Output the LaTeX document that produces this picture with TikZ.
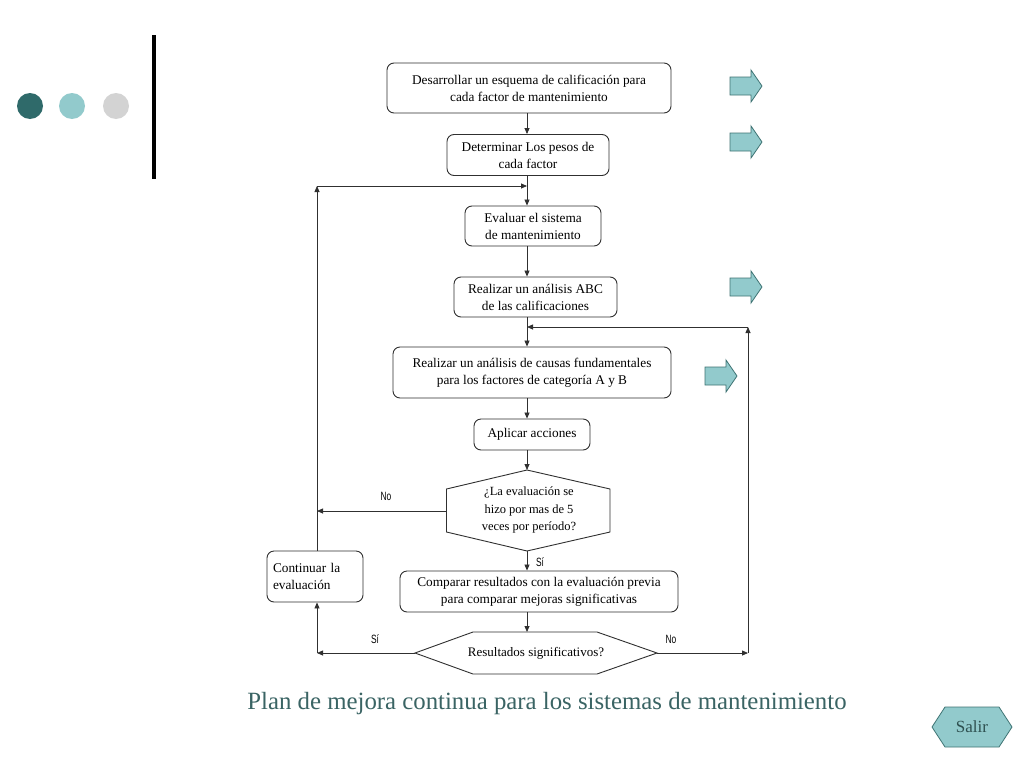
\documentclass[tikz,border=0pt]{standalone}
\usepackage{fontspec}
\setmainfont{Liberation Serif}
\newfontfamily\lblfont{Liberation Sans}
\usetikzlibrary{arrows.meta}
\definecolor{darkteal}{HTML}{2F6A6A}
\definecolor{lightteal}{HTML}{92CACC}
\definecolor{dotgray}{HTML}{D3D3D3}
\definecolor{tealedge}{HTML}{3F7474}
\definecolor{captioncol}{HTML}{3A6464}
\definecolor{linecol}{HTML}{303030}
\tikzset{
  box/.style={draw=linecol, line width=0.9pt, rounded corners=7pt, inner sep=0pt,
    align=center, font=\fontsize{13.3}{17}\selectfont},
  conn/.style={draw=linecol, line width=0.8pt},
  arr/.style={conn, -{Triangle[length=6pt,width=5pt]}},
  lbl/.style={font=\lblfont\fontsize{12}{12}\selectfont, inner sep=0pt},
  bigarrow/.style={draw=tealedge, fill=lightteal, line width=0.8pt},
  hexline/.style={draw=linecol, line width=0.9pt},
}
\newcommand{\narrowtxt}[1]{\scalebox{0.7}[1]{#1}}
\newcommand{\tealarrow}[2]{%
  \draw[bigarrow] (#1,#2-9) -- (#1+21,#2-9) -- (#1+21,#2-16) -- (#1+32,#2)
    -- (#1+21,#2+16) -- (#1+21,#2+9) -- (#1,#2+9) -- cycle;}
\begin{document}
\begin{tikzpicture}[x=1pt,y=-1pt]
\useasboundingbox (0,0) rectangle (1024,768);
\fill[white] (0,0) rectangle (1024,768);
% decoration
\fill[darkteal] (30,106) circle (13);
\fill[lightteal] (72,106) circle (13);
\fill[dotgray] (116,106) circle (13);
\fill[black] (151.5,35) rectangle (155.5,179);
% boxes
\node[box, minimum width=284pt, minimum height=50pt] (b1) at (529,88)
  {Desarrollar un esquema de calificación para\\cada factor de mantenimiento};
\node[box, minimum width=162pt, minimum height=41pt] (b2) at (528,155)
  {Determinar Los pesos de\\cada factor};
\node[box, minimum width=136pt, minimum height=40pt] (b3) at (533,226)
  {Evaluar el sistema\\de mantenimiento};
\node[box, minimum width=163pt, minimum height=40pt] (b4) at (535.5,297)
  {Realizar un análisis ABC\\de las calificaciones};
\node[box, minimum width=278pt, minimum height=51pt] (b5) at (532,372.5)
  {Realizar un análisis de causas fundamentales\\para los factores de categoría A y B};
\node[box, minimum width=116pt, minimum height=31pt] (b6) at (532,434.5)
  {Aplicar acciones};
\node[box, minimum width=278pt, minimum height=41pt] (b8) at (539,591.5)
  {Comparar resultados con la evaluación previa\\para comparar mejoras significativas};
\node[box, minimum width=96pt, minimum height=51pt, align=left, text width=84pt] (cont) at (315,576.5)
  {Continuar la\\evaluación};
% hexagon 1
\coordinate (h1t) at (527,470);
\coordinate (h1b) at (527,551);
\coordinate (h1l) at (446.5,511);
\coordinate (h1r) at (610,511);
\draw[hexline] (h1t) -- (610,489) -- (610,532) -- (h1b) -- (446.5,532) -- (446.5,489) -- cycle;
\node[align=center, font=\fontsize{12.5}{17.5}\selectfont, inner sep=0pt] (h1) at (529,510)
  {¿La evaluación se\\hizo por mas de 5\\veces por período?};
% hexagon 2
\coordinate (h2t) at (527,632);
\coordinate (h2l) at (415,653);
\coordinate (h2r) at (657,653);
\draw[hexline] (h2l) -- (473,632) -- (597,632) -- (h2r) -- (597,674) -- (473,674) -- cycle;
\node[font=\fontsize{13}{14}\selectfont, inner sep=0pt] (h2) at (536,653) {Resultados significativos?};
% loop coordinates
\coordinate (lt) at (317,186);
\coordinate (lm) at (527,186);
\coordinate (lno) at (317,511);
\coordinate (lsi) at (317,653);
\coordinate (rb) at (748,653);
\coordinate (rt) at (748,327);
\coordinate (rm) at (527,327);
% connectors
\draw[arr] (b1.south -| lm) -- (b2.north -| lm);
\draw[arr] (b2.south -| lm) -- (b3.north -| lm);
\draw[arr] (b3.south -| lm) -- (b4.north -| lm);
\draw[arr] (b4.south -| lm) -- (b5.north -| lm);
\draw[arr] (b5.south -| lm) -- (b6.north -| lm);
\draw[arr] (b6.south -| lm) -- (h1t);
\draw[arr] (h1b) -- (b8.north -| lm);
\draw[arr] (b8.south -| lm) -- (h2t);
\draw[arr] (h1l) -- (lno);
\draw[arr] (cont.north -| lt) -- (lt);
\draw[arr] (lt) -- (lm);
\draw[arr] (h2l) -- (lsi);
\draw[arr] (lsi) -- (cont.south -| lsi);
\draw[arr] (h2r) -- (rb);
\draw[arr] (rb) -- (rt);
\draw[arr] (rt) -- (rm);
% labels
\node[lbl] (lbno1) at (386,496) {\narrowtxt{No}};
\node[lbl] (lbsi1) at (540,562) {\narrowtxt{Sí}};
\node[lbl] (lbsi2) at (375,639) {\narrowtxt{Sí}};
\node[lbl] (lbno2) at (671,639) {\narrowtxt{No}};
% teal arrows
\tealarrow{730}{86}
\tealarrow{730}{142}
\tealarrow{730}{287}
\tealarrow{705}{376}
% caption
\node[text=captioncol, font=\fontsize{24.8}{28}\selectfont, inner sep=0pt] (cap) at (547,704)
  {Plan de mejora continua para los sistemas de mantenimiento};
% Salir
\draw[draw=tealedge, fill=lightteal, line width=0.8pt] (932,727) -- (945,707) -- (999,707) -- (1012,727) -- (999,747) -- (945,747) -- cycle;
\node[text=captioncol!80!black, font=\fontsize{17}{19}\selectfont, inner sep=0pt] (salir) at (972,727) {Salir};
\end{tikzpicture}
\end{document}
